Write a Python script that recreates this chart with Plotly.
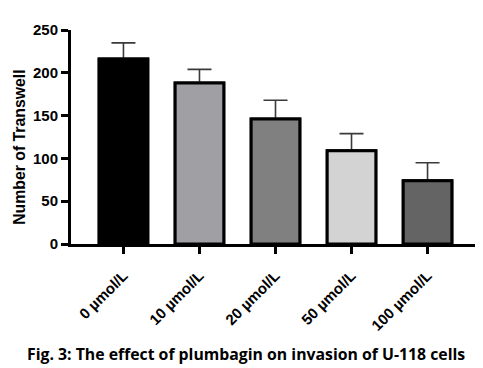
import plotly.graph_objects as go

categories = ["0 µmol/L", "10 µmol/L", "20 µmol/L", "50 µmol/L", "100 µmol/L"]
means = [216, 188, 146, 109, 74]
sd = [19, 16, 22, 20, 21]
colors = ["#000000", "#a0a0a4", "#808080", "#d3d3d3", "#646464"]
y_title = "Number of Transwell"
caption = "Fig. 3: The effect of plumbagin on invasion of U-118 cells"

FONT = "Liberation Sans"

fig = go.Figure()
# bars with error bars
fig.add_trace(go.Bar(
    x=categories, y=means, width=0.64,
    marker=dict(color=colors, line=dict(color="black", width=3)),
    error_y=dict(type="data", array=sd, visible=True, color="#3a3a3a",
                 thickness=1.6, width=12),
    showlegend=False, hoverinfo="skip",
))
# same bars on top to hide the lower half of the error bars
fig.add_trace(go.Bar(
    x=categories, y=means, width=0.64,
    marker=dict(color=colors, line=dict(color="black", width=3)),
    showlegend=False,
))

# page has an 8px body margin, so the figure is 8px smaller in each direction
fig.update_layout(
    width=475, height=360,
    margin=dict(l=63, r=3, t=22, b=124),
    barmode="overlay",
    plot_bgcolor="white", paper_bgcolor="white",
    font=dict(family=FONT, color="black"),
    template="none",
)
fig.update_xaxes(
    range=[-0.69, 4.69],
    showline=True, linecolor="black", linewidth=3,
    ticks="outside", ticklen=7, tickwidth=2.5, tickcolor="black",
    tickangle=-45, ticklabelstandoff=7,
    tickfont=dict(family=FONT, size=15, weight="bold", color="black"),
    showgrid=False, zeroline=False,
)
fig.update_yaxes(
    range=[0, 250], tickvals=[0, 50, 100, 150, 200, 250],
    showline=True, linecolor="black", linewidth=3,
    ticks="outside", ticklen=7, tickwidth=2.5, tickcolor="black",
    tickfont=dict(family=FONT, size=15, weight="bold", color="black"),
    showgrid=False, zeroline=False,
)
fig.add_annotation(
    text=y_title, textangle=-90,
    xref="paper", yref="paper", x=-0.126, y=0.08,
    xanchor="center", yanchor="bottom", showarrow=False,
    font=dict(family=FONT, size=15.8, weight="bold", color="black"),
)
fig.add_annotation(
    text=caption,
    xref="paper", yref="paper", x=0.427, y=-0.515,
    xanchor="center", yanchor="middle", showarrow=False,
    font=dict(family="Open Sans", size=15.8, weight="bold", color="black"),
)
fig.write_html("out.html")
